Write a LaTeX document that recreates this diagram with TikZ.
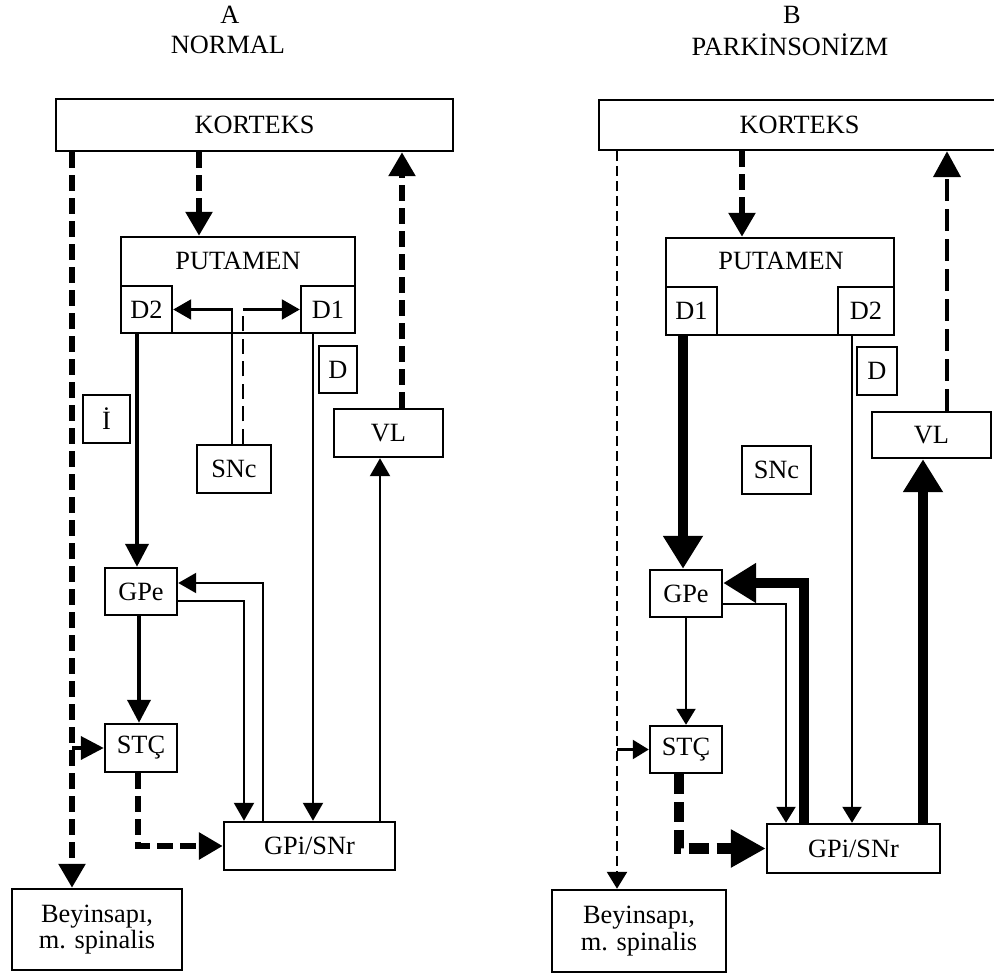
\documentclass[tikz,border=0pt]{standalone}
\usepackage{fontspec}
\setmainfont{Liberation Serif}
\usetikzlibrary{arrows.meta}
\newlength{\upx}
\setlength{\upx}{0.02cm}
\begin{document}
\begin{tikzpicture}[x=0.02cm,y=-0.02cm,
  box/.style={draw, line width=1.4pt, inner sep=0pt, font=\fontsize{15}{15}\selectfont, align=center},
  lbl/.style={inner sep=0pt, font=\fontsize{15}{16}\selectfont},
  thinA/.style={line width=1.3pt, -{Triangle[length=0.36cm,width=0.4cm]}},
  medA/.style={line width=2.2pt, -{Triangle[length=0.46cm,width=0.46cm]}},
  dashA/.style={line width=3.2pt, dash pattern=on 0.32cm off 0.14cm, -{Triangle[length=0.48cm,width=0.52cm]}},
  dashthinA/.style={line width=1.1pt, dash pattern=on 0.3cm off 0.15cm},
  thinB/.style={line width=1.3pt, -{Triangle[length=0.32cm,width=0.38cm]}},
  thickB/.style={line width=6pt, -{Triangle[length=0.66cm,width=0.76cm]}},
  dashthinB/.style={line width=1.5pt, dash pattern=on 0.2cm off 0.1cm, -{Triangle[length=0.34cm,width=0.4cm]}},
  dashmedB/.style={line width=2.4pt, dash pattern=on 0.44cm off 0.16cm, -{Triangle[length=0.52cm,width=0.54cm]}},
  dashthickB/.style={line width=6pt, dash pattern=on 0.4cm off 0.16cm, -{Triangle[length=0.7cm,width=0.72cm]}}
]
\useasboundingbox (0,0) rectangle (994,973);

% ---------------- Panel A ----------------
\node[lbl] (tA1) at (230,15) {A};
\node[lbl] (tA2) at (228,45) {NORMAL};

\node[box, minimum width=397\upx, minimum height=52\upx] (korA) at (254.5,125) {KORTEKS};
\node[box, minimum width=234\upx, minimum height=96\upx] (putA) at (238,285) {};
\node[lbl] (putAt) at (238,261) {PUTAMEN};
\node[box, minimum width=51\upx, minimum height=47\upx] (d2A) at (146.5,309.5) {D2};
\node[box, minimum width=54\upx, minimum height=47\upx] (d1A) at (328,309.5) {D1};
\node[box, minimum width=38\upx, minimum height=47\upx] (dA) at (338,369.5) {D};
\node[box, minimum width=47\upx, minimum height=48\upx] (iA) at (106.5,419) {İ};
\node[box, minimum width=74\upx, minimum height=48\upx] (sncA) at (234,469) {SNc};
\node[box, minimum width=109\upx, minimum height=48\upx] (vlA) at (388.5,433) {VL};
\node[box, minimum width=72\upx, minimum height=47\upx] (gpeA) at (141,591.5) {GPe};
\node[box, minimum width=72\upx, minimum height=48\upx] (stcA) at (141,748) {STÇ};
\node[box, minimum width=171\upx, minimum height=48\upx] (gpiA) at (309.5,846) {GPi/SNr};
\node[box, minimum width=170\upx, minimum height=81\upx] (beyA) at (97,929.5) {Beyinsapı,\\m. spinalis};

\coordinate (lA) at (72,0);
\coordinate (kpA) at (199,0);
\coordinate (vkA) at (402,0);
\coordinate (sdA) at (232,0);
\coordinate (sdhA) at (243,0);
\coordinate (dgA) at (137,0);
\coordinate (dgiA) at (313,0);
\coordinate (gvA) at (380,0);
\coordinate (fbA) at (263,583);
\coordinate (ffA) at (244,601);
\coordinate (gsA) at (139,0);
\coordinate (sgA) at (138,0);

\draw[dashA] (lA |- korA.south) -- (lA |- beyA.north);
\draw[dashA] (kpA |- korA.south) -- (kpA |- putA.north);
\draw[dashA] (vkA |- vlA.north) -- (vkA |- korA.south);
\draw[thinA] (sdA |- sncA.north) |- (d2A.east);
\draw[dashthinA] (sdhA |- sncA.north) -- (sdhA |- d1A.west);
\draw[thinA] (sdhA |- d1A.west) -- (d1A.west);
\draw[medA] (dgA |- d2A.south) -- (dgA |- gpeA.north);
\draw[thinA] (dgiA |- d1A.south) -- (dgiA |- gpiA.north);
\draw[thinA] (gvA |- gpiA.north) -- (gvA |- vlA.south);
\draw[thinA] (fbA |- gpiA.north) -- (fbA) -- (fbA -| gpeA.east);
\draw[thinA] (ffA -| gpeA.east) -- (ffA) -- (ffA |- gpiA.north);
\draw[medA] (gsA |- gpeA.south) -- (gsA |- stcA.north);
\draw[medA] (lA |- stcA.west) -- (stcA.west);
\draw[dashA, line width=3.5pt] (sgA |- stcA.south) |- (gpiA.west);

% ---------------- Panel B ----------------
\node[lbl] (tB1) at (792,15) {B};
\node[lbl] (tB2) at (790,45) {PARKİNSONİZM};

\node[box, minimum width=401\upx, minimum height=50\upx] (korB) at (799.5,125) {KORTEKS};
\node[box, minimum width=228\upx, minimum height=97\upx] (putB) at (780,286.5) {};
\node[lbl] (putBt) at (781,261) {PUTAMEN};
\node[box, minimum width=51\upx, minimum height=48\upx] (d1B) at (691.5,311) {D1};
\node[box, minimum width=56\upx, minimum height=48\upx] (d2B) at (866,311) {D2};
\node[box, minimum width=40\upx, minimum height=48\upx] (dB) at (877,371) {D};
\node[box, minimum width=119\upx, minimum height=46\upx] (vlB) at (931.5,435) {VL};
\node[box, minimum width=69\upx, minimum height=48\upx] (sncB) at (776.5,470) {SNc};
\node[box, minimum width=72\upx, minimum height=47\upx] (gpeB) at (686,593.5) {GPe};
\node[box, minimum width=72\upx, minimum height=47\upx] (stcB) at (686,749.5) {STÇ};
\node[box, minimum width=173\upx, minimum height=49\upx] (gpiB) at (853.5,848.5) {GPi/SNr};
\node[box, minimum width=174\upx, minimum height=82\upx] (beyB) at (639,931) {Beyinsapı,\\m. spinalis};

\coordinate (lB) at (617,0);
\coordinate (kpB) at (742,0);
\coordinate (vkB) at (947,0);
\coordinate (dgB) at (683,0);
\coordinate (dgiB) at (852,0);
\coordinate (gvB) at (923,0);
\coordinate (fbB) at (804,583);
\coordinate (ffB) at (786,604);
\coordinate (gsB) at (686,0);
\coordinate (sgB) at (679,0);

\draw[dashthinB] (lB |- korB.south) -- (lB |- beyB.north);
\draw[dashA] (kpB |- korB.south) -- (kpB |- putB.north);
\draw[dashmedB] (vkB |- vlB.north) -- (vkB |- korB.south);
\draw[thickB] (dgB |- d1B.south) -- (dgB |- gpeB.north);
\draw[thinB] (dgiB |- d2B.south) -- (dgiB |- gpiB.north);
\draw[thickB] (gvB |- gpiB.north) -- (gvB |- vlB.south);
\draw[thickB] (fbB |- gpiB.north) -- (fbB) -- (fbB -| gpeB.east);
\draw[thinB] (ffB -| gpeB.east) -- (ffB) -- (ffB |- gpiB.north);
\draw[thinB] (gsB |- gpeB.south) -- (gsB |- stcB.north);
\draw[thinB] (lB |- stcB.west) -- (stcB.west);
\draw[dashthickB] (sgB |- stcB.south) |- (gpiB.west);
\end{tikzpicture}
\end{document}
